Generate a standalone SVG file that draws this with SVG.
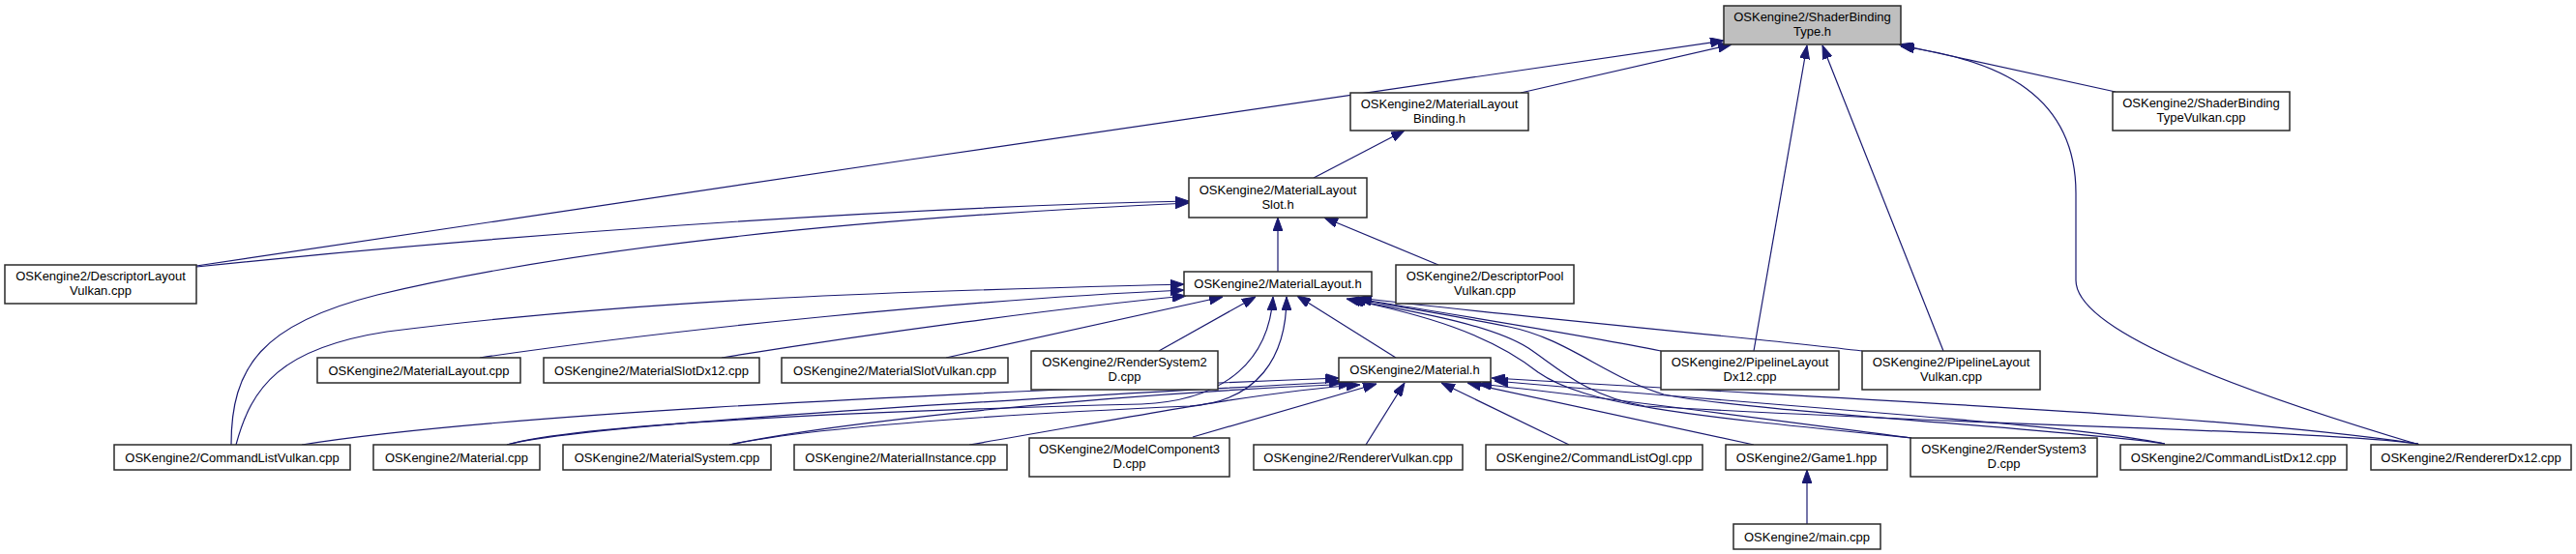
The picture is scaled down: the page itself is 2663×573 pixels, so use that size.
<svg xmlns="http://www.w3.org/2000/svg" width="2663" height="573" viewBox="0 0 2663 573">
<defs>
<style>
.node rect{fill:#ffffff;stroke:#2a2a2a;stroke-width:1.5}
.root rect{fill:#bfbfbf}
.node text{font-family:"Liberation Sans",Arial,sans-serif;font-size:13px;text-anchor:middle;fill:#000}
#edges path{fill:none;stroke:#191970;stroke-width:1.2;marker-end:url(#arr)}
</style>
<marker id="arr" markerUnits="userSpaceOnUse" viewBox="0 0 14 10" refX="14" refY="5" markerWidth="14" markerHeight="10" orient="auto">
<path d="M0,0 L14,5 L0,10 z" fill="#191970" stroke="#191970" stroke-width="1"/>
</marker>
</defs>
<rect width="2663" height="573" fill="#ffffff"/>
<g id="edges">
<path d="M1572,96 L1790,46"/>
<path d="M203,275 C700,200 1300,112 1782,42"/>
<path d="M1813,363 L1868,47"/>
<path d="M2009,363 L1884,47"/>
<path d="M2187,95 L1963,46"/>
<path d="M2501,460 C2300,400 2146,340 2146,290 L2146,200 C2146,100 2070,62 1965,48"/>
<path d="M1358,184 L1452,135"/>
<path d="M203,276 C500,245 900,215 1229,208"/>
<path d="M239,460 C239,380 270,335 390,305 C600,255 900,225 1229,210"/>
<path d="M1321,281 L1321,225"/>
<path d="M1487,274 L1369,225"/>
<path d="M244,460 C260,400 290,360 400,343 C700,305 1000,300 1224,294"/>
<path d="M496,370 C700,340 1000,310 1224,300"/>
<path d="M746,370 C900,345 1100,318 1226,306"/>
<path d="M978,370 L1264,307"/>
<path d="M1198,363 L1298,307"/>
<path d="M1443,370 L1341,306"/>
<path d="M524,460 C600,438 900,425 1180,418 C1270,414 1312,370 1316,307"/>
<path d="M754,460 C850,440 1050,428 1230,420 C1300,415 1330,370 1330,307"/>
<path d="M1717,363 C1640,347 1500,325 1404,309"/>
<path d="M1925,363 C1800,348 1550,326 1404,308"/>
<path d="M1976,453 C1750,430 1640,420 1590,385 C1540,345 1470,325 1392,309"/>
<path d="M2238,459 C2150,445 1800,425 1720,408 C1660,390 1620,350 1560,338 C1500,326 1450,318 1398,309"/>
<path d="M2500,459 C2400,445 2100,443 1700,420 C1640,410 1610,380 1580,360 C1540,335 1460,322 1396,310"/>
<path d="M312,460 C500,430 900,410 1384,391"/>
<path d="M524,460 C580,444 900,420 1388,395"/>
<path d="M754,460 C850,440 1100,410 1398,397"/>
<path d="M1002,460 C1150,435 1300,405 1406,398"/>
<path d="M1233,452 L1423,397"/>
<path d="M1412,460 L1452,396"/>
<path d="M1622,460 L1490,396"/>
<path d="M1813,460 L1517,396"/>
<path d="M1976,453 C1800,430 1650,410 1528,397"/>
<path d="M2238,459 C2150,440 1900,425 1545,394"/>
<path d="M2500,459 C2300,430 2000,418 1542,391"/>
<path d="M1868,542 L1868,486"/>
</g>
<g id="n1" class="node root"><rect x="1782" y="6" width="183" height="40"/><text x="1873.5" y="22">OSKengine2/ShaderBinding</text><text x="1873.5" y="37">Type.h</text></g>
<g id="n2" class="node"><rect x="1396" y="96" width="184" height="39"/><text x="1488" y="112">OSKengine2/MaterialLayout</text><text x="1488" y="127">Binding.h</text></g>
<g id="n3" class="node"><rect x="2184" y="95" width="183" height="40"/><text x="2275.5" y="111">OSKengine2/ShaderBinding</text><text x="2275.5" y="126">TypeVulkan.cpp</text></g>
<g id="n4" class="node"><rect x="5" y="274" width="198" height="40"/><text x="104" y="290">OSKengine2/DescriptorLayout</text><text x="104" y="305">Vulkan.cpp</text></g>
<g id="n5" class="node"><rect x="1229" y="184" width="184" height="41"/><text x="1321" y="201">OSKengine2/MaterialLayout</text><text x="1321" y="216">Slot.h</text></g>
<g id="n6" class="node"><rect x="1443" y="274" width="184" height="40"/><text x="1535" y="290">OSKengine2/DescriptorPool</text><text x="1535" y="305">Vulkan.cpp</text></g>
<g id="n7" class="node"><rect x="1224" y="281" width="194" height="25"/><text x="1321" y="298">OSKengine2/MaterialLayout.h</text></g>
<g id="n8" class="node"><rect x="328" y="370" width="210" height="26"/><text x="433" y="387.5">OSKengine2/MaterialLayout.cpp</text></g>
<g id="n9" class="node"><rect x="562" y="370" width="223" height="26"/><text x="673.5" y="387.5">OSKengine2/MaterialSlotDx12.cpp</text></g>
<g id="n10" class="node"><rect x="808" y="370" width="234" height="26"/><text x="925" y="387.5">OSKengine2/MaterialSlotVulkan.cpp</text></g>
<g id="n11" class="node"><rect x="1066" y="363" width="193" height="40"/><text x="1162.5" y="379">OSKengine2/RenderSystem2</text><text x="1162.5" y="394">D.cpp</text></g>
<g id="n12" class="node"><rect x="1384" y="370" width="157" height="25"/><text x="1462.5" y="387">OSKengine2/Material.h</text></g>
<g id="n13" class="node"><rect x="1717" y="363" width="184" height="40"/><text x="1809" y="379">OSKengine2/PipelineLayout</text><text x="1809" y="394">Dx12.cpp</text></g>
<g id="n14" class="node"><rect x="1925" y="363" width="184" height="40"/><text x="2017" y="379">OSKengine2/PipelineLayout</text><text x="2017" y="394">Vulkan.cpp</text></g>
<g id="n15" class="node"><rect x="118" y="460" width="244" height="26"/><text x="240" y="477.5">OSKengine2/CommandListVulkan.cpp</text></g>
<g id="n16" class="node"><rect x="386" y="460" width="172" height="26"/><text x="472" y="477.5">OSKengine2/Material.cpp</text></g>
<g id="n17" class="node"><rect x="582" y="460" width="215" height="26"/><text x="689.5" y="477.5">OSKengine2/MaterialSystem.cpp</text></g>
<g id="n18" class="node"><rect x="821" y="460" width="220" height="26"/><text x="931" y="477.5">OSKengine2/MaterialInstance.cpp</text></g>
<g id="n19" class="node"><rect x="1064" y="453" width="207" height="40"/><text x="1167.5" y="469">OSKengine2/ModelComponent3</text><text x="1167.5" y="484">D.cpp</text></g>
<g id="n20" class="node"><rect x="1296" y="460" width="216" height="26"/><text x="1404" y="477.5">OSKengine2/RendererVulkan.cpp</text></g>
<g id="n21" class="node"><rect x="1536" y="460" width="224" height="26"/><text x="1648" y="477.5">OSKengine2/CommandListOgl.cpp</text></g>
<g id="n22" class="node"><rect x="1784" y="460" width="167" height="26"/><text x="1867.5" y="477.5">OSKengine2/Game1.hpp</text></g>
<g id="n23" class="node"><rect x="1975" y="453" width="193" height="40"/><text x="2071.5" y="469">OSKengine2/RenderSystem3</text><text x="2071.5" y="484">D.cpp</text></g>
<g id="n24" class="node"><rect x="2192" y="460" width="234" height="26"/><text x="2309" y="477.5">OSKengine2/CommandListDx12.cpp</text></g>
<g id="n25" class="node"><rect x="2451" y="460" width="207" height="26"/><text x="2554.5" y="477.5">OSKengine2/RendererDx12.cpp</text></g>
<g id="n26" class="node"><rect x="1792" y="542" width="152" height="26"/><text x="1868" y="559.5">OSKengine2/main.cpp</text></g>
</svg>
